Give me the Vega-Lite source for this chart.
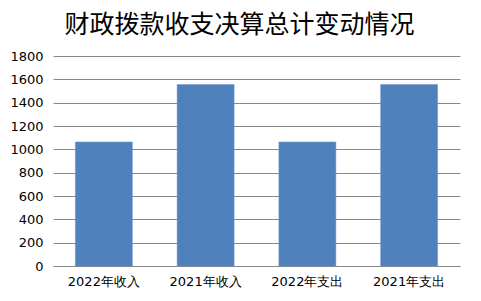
{
  "$schema": "https://vega.github.io/schema/vega-lite/v6.json",
  "autosize": "none",
  "width": 407,
  "height": 210,
  "padding": {"left": 53, "top": 56, "right": 21, "bottom": 35},
  "background": "white",
  "title": {
    "text": "财政拨款收支决算总计变动情况",
    "font": "Noto Sans CJK SC",
    "fontSize": 25,
    "fontWeight": "normal",
    "color": "#000000",
    "anchor": "middle",
    "dx": -17,
    "offset": 12
  },
  "data": {
    "values": [
      {"category": "2022年收入", "value": 1063},
      {"category": "2021年收入", "value": 1555},
      {"category": "2022年支出", "value": 1063},
      {"category": "2021年支出", "value": 1555}
    ]
  },
  "mark": {"type": "bar", "color": "#4F81BD", "stroke": "#6A93C8", "strokeWidth": 0.5},
  "encoding": {
    "x": {
      "field": "category",
      "type": "nominal",
      "sort": null,
      "scale": {"paddingInner": 0.44, "paddingOuter": 0.22},
      "axis": {
        "title": null,
        "labelAngle": 0,
        "ticks": false,
        "domainColor": "#888888",
        "labelFont": "DejaVu Sans",
        "labelFontSize": 13,
        "labelColor": "#000000",
        "labelPadding": 9
      }
    },
    "y": {
      "field": "value",
      "type": "quantitative",
      "scale": {"domain": [0, 1800], "nice": false},
      "axis": {
        "title": null,
        "format": "d",
        "values": [0, 200, 400, 600, 800, 1000, 1200, 1400, 1600, 1800],
        "domain": false,
        "ticks": false,
        "gridColor": "#888888",
        "gridOpacity": 1,
        "labelFont": "DejaVu Sans",
        "labelFontSize": 13,
        "labelColor": "#000000",
        "labelPadding": 10
      }
    }
  },
  "config": {"view": {"stroke": null}}
}
